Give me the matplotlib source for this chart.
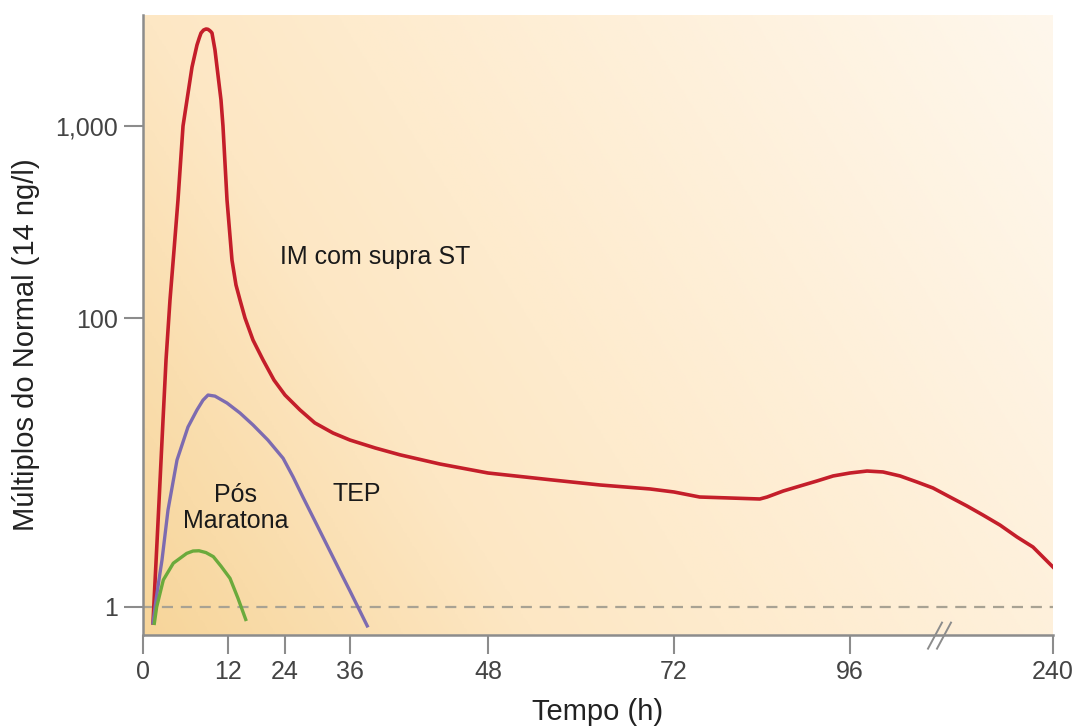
import numpy as np
import matplotlib
matplotlib.use("Agg")
import matplotlib.pyplot as plt
from matplotlib.colors import LinearSegmentedColormap
import matplotlib.transforms as mtransforms

plt.rcParams['font.family'] = ['Liberation Sans', 'DejaVu Sans']

# ---- data (hours, multiples of normal) ----
x_ticks = [0, 12, 24, 36, 48, 72, 96, 240]
x_ticklabels = ["0", "12", "24", "36", "48", "72", "96", "240"]
y_ticks = [1, 100, 1000]
y_ticklabels = ["1", "100", "1,000"]

red_h = [1.41, 1.69, 1.98, 2.26, 2.54, 2.82, 3.11, 3.25, 3.81, 4.38, 4.94, 5.65,
         6.21, 6.92, 7.62, 7.95, 8.19, 8.55, 8.89, 9.15, 9.32, 9.55, 9.74, 10.16,
         10.45, 11.01, 11.29, 11.86, 12.84, 13.68, 14.53, 15.58, 17.26, 19.37,
         21.68, 24.0, 26.77, 29.5, 32.86, 36.0, 38.2, 40.35, 43.8, 48.0, 56.0,
         62.45, 68.9, 72.0, 75.5, 79.6, 83.7, 84.7, 86.9, 89.2, 91.5, 93.7, 96.0,
         108.1, 119.4, 131.5, 143.5, 154.9, 166.9, 179.0, 190.3, 202.4, 214.5,
         225.8, 240.0]
red_v = [0.775, 1.47, 2.82, 5.33, 10.2, 19.4, 37.2, 51.3, 124, 226, 412, 1000,
         1366, 2028, 2640, 2880, 3050, 3160, 3200, 3190, 3160, 3110, 3050, 2490,
         2028, 1366, 1000, 412, 200, 148.6, 124, 100, 70.4, 51.3,
         37.2, 29.3, 23.1, 18.8, 16.0, 14.3, 12.6, 11.3, 9.77, 8.46, 7.6,
         6.99, 6.56, 6.25, 5.77, 5.68, 5.59, 5.77, 6.35, 6.88, 7.45, 8.07, 8.46,
         8.73, 8.6, 8.07, 7.33, 6.66, 5.77, 5.0, 4.33, 3.69, 3.05,
         2.60, 1.89]

tep_h = [1.41, 1.84, 2.40, 2.68, 3.53, 4.80, 6.35, 7.62, 8.47, 9.18, 10.16,
         11.86, 14.53, 17.26, 20.4, 23.6, 25.5, 27.3, 29.9, 34.7, 36.0, 37.5]
tep_v = [0.775, 1.12, 1.72, 2.11, 4.69, 10.4, 17.6, 23.1, 27.0, 29.3, 28.8,
         25.8, 22.0, 18.2, 14.3, 10.7, 7.94, 5.77, 3.69, 1.61, 1.29, 0.74]

mar_h = [1.6, 1.93, 2.87, 4.28, 6.17, 7.06, 7.91, 8.89, 9.93, 11.0, 12.42, 14.1, 15.73]
mar_v = [0.77, 1.0, 1.54, 2.01, 2.35, 2.44, 2.45, 2.38, 2.23, 1.92, 1.58, 1.15, 0.82]

# ---- schematic (non-uniform) scales ----
x_pix = [143, 228, 285, 350, 488, 674, 850, 1053]
def xf(x):
    return np.interp(x, x_ticks, x_pix)
def xi(p):
    return np.interp(p, x_pix, x_ticks)

ly_nodes = [-3, 0, 2, 3, 6]
py_nodes = [-433.5, 0, 289, 481, 1057]
def yf(v):
    v = np.asarray(v, dtype=float)
    lv = np.log10(np.clip(v, 1e-3, None))
    return np.interp(lv, ly_nodes, py_nodes)
def yi(p):
    return 10 ** np.interp(p, py_nodes, ly_nodes)

W, H = 1079, 727
fig = plt.figure(figsize=(W / 100, H / 100), dpi=100)
ax = fig.add_axes([143 / W, 1 - 635 / H, (1053 - 143) / W, (635 - 15) / H])
ax.set_xscale('function', functions=(xf, xi))
ax.set_yscale('function', functions=(yf, yi))
ax.set_xlim(0, 240)
ax.set_ylim(yi(607 - 635), yi(607 - 15))

# background gradient (bottom-left orange to top-right cream)
cmap = LinearSegmentedColormap.from_list(
    "bg", [(0.0, "#F7D59A"), (0.3, "#FDE7C4"), (0.45, "#FEEBCD"), (1.0, "#FEF7EC")])
gx, gy = np.meshgrid(np.linspace(0, 1, 400), np.linspace(0, 1, 300))
grad = np.clip(0.7 * gx + 0.3 * gy, 0, 1)
ax.imshow(grad, extent=[0, 1, 0, 1], origin='lower', transform=ax.transAxes,
          cmap=cmap, vmin=0, vmax=1, aspect='auto', zorder=0, interpolation='bilinear')

ax.axhline(1, color='#A8A293', lw=1.6, ls=(0, (5, 3.5)), zorder=1)
ax.plot(red_h, red_v, color='#C41E2A', lw=2.6, zorder=3, solid_joinstyle='round')
ax.plot(tep_h, tep_v, color='#7D6BB0', lw=2.4, zorder=3, solid_joinstyle='round')
ax.plot(mar_h, mar_v, color='#6BAA3C', lw=2.4, zorder=3, solid_joinstyle='round')

for s in ['top', 'right']:
    ax.spines[s].set_visible(False)
for s in ['left', 'bottom']:
    ax.spines[s].set_color('#8C8C8C')
    ax.spines[s].set_linewidth(1.8)

ax.set_xticks(x_ticks)
ax.set_xticklabels(x_ticklabels)
ax.set_yticks(y_ticks)
ax.set_yticklabels(y_ticklabels)
ax.minorticks_off()
ax.tick_params(axis='both', colors='#8C8C8C', length=14, width=1.5,
               labelsize=18, labelcolor='#444444', pad=4)

ax.set_xlabel("Tempo (h)", fontsize=21, color='#222222', labelpad=10)
ax.set_ylabel("Múltiplos do Normal (14 ng/l)", fontsize=21, color='#222222')
ax.yaxis.set_label_coords(-0.113, 0.468)

ax.text(xi(375), yi(607 - 257), "IM com supra ST", fontsize=18,
        ha='center', va='center', color='#1A1A1A')
ax.text(xi(236), yi(607 - 508), "Pós\nMaratona", fontsize=18, ha='center',
        va='center', color='#1A1A1A', linespacing=1.1)
ax.text(xi(357), yi(607 - 494), "TEP", fontsize=18, ha='center', va='center',
        color='#1A1A1A')

# axis break marks
trans = mtransforms.blended_transform_factory(ax.transData, ax.transAxes)
for dx in [-5, 4]:
    ax.plot([xi(940 + dx - 7), xi(940 + dx + 7)], [-0.022, 0.02], transform=trans,
            color='#8C8C8C', lw=1.4, clip_on=False, zorder=5)

fig.savefig("out.png", dpi=100, facecolor='white')
